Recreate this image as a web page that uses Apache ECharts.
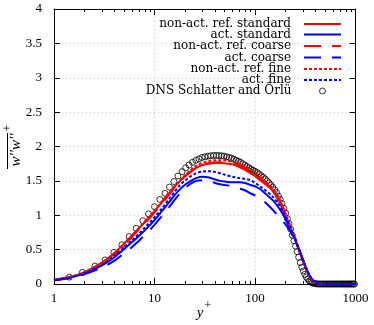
<!DOCTYPE html>
<html><head><meta charset="utf-8">
<script src="https://cdn.jsdelivr.net/npm/echarts@6/dist/echarts.min.js"></script>
<style>html,body{margin:0;padding:0;background:#fff}#c{width:374px;height:325px}</style>
</head><body><div id="c"></div>
<script>
// ---- data ----
const yPlus = [1,1.5,2,3,4,5,6,7,8,10,12,14,16,18,20,23,26,30,35,40,45,50,60,70,80,90,100,115,130,150,170,190,210,230,250,270,290,310,330,350,380,420,460,1000];
const nonActRefStandard = [0.06,0.11,0.17,0.31,0.45,0.59,0.71,0.81,0.90,1.06,1.20,1.32,1.42,1.50,1.57,1.64,1.69,1.73,1.75,1.76,1.76,1.755,1.74,1.70,1.66,1.61,1.57,1.50,1.44,1.36,1.25,1.08,0.93,0.78,0.64,0.51,0.39,0.28,0.18,0.10,0.04,0.01,0,0];
const actStandard = [0.055,0.10,0.15,0.27,0.39,0.51,0.61,0.70,0.78,0.93,1.07,1.19,1.30,1.38,1.44,1.50,1.54,1.56,1.55,1.52,1.50,1.49,1.48,1.48,1.47,1.44,1.42,1.37,1.30,1.22,1.12,1.01,0.89,0.77,0.65,0.53,0.41,0.30,0.20,0.12,0.05,0.015,0,0];
const nonActRefCoarse = [0.06,0.11,0.17,0.30,0.44,0.57,0.69,0.79,0.88,1.04,1.18,1.30,1.41,1.49,1.56,1.63,1.69,1.73,1.76,1.77,1.77,1.765,1.75,1.72,1.68,1.64,1.60,1.53,1.46,1.37,1.26,1.10,0.95,0.79,0.65,0.52,0.40,0.29,0.19,0.11,0.045,0.012,0,0];
const actCoarse = [0.055,0.09,0.14,0.24,0.34,0.45,0.54,0.63,0.71,0.86,1.00,1.12,1.23,1.32,1.39,1.46,1.50,1.51,1.50,1.47,1.45,1.44,1.42,1.39,1.36,1.32,1.29,1.24,1.17,1.08,0.99,0.91,0.83,0.74,0.64,0.53,0.41,0.30,0.20,0.12,0.05,0.015,0,0];
const nonActRefFine = [0.06,0.11,0.17,0.31,0.45,0.59,0.71,0.81,0.91,1.07,1.21,1.33,1.43,1.51,1.58,1.66,1.72,1.76,1.79,1.80,1.80,1.795,1.78,1.75,1.71,1.67,1.62,1.55,1.48,1.39,1.27,1.12,0.96,0.80,0.65,0.52,0.40,0.29,0.19,0.11,0.045,0.012,0,0];
const actFine = [0.055,0.10,0.16,0.28,0.41,0.53,0.64,0.73,0.82,0.97,1.11,1.24,1.35,1.44,1.50,1.57,1.61,1.635,1.64,1.63,1.61,1.59,1.56,1.54,1.53,1.51,1.47,1.41,1.35,1.27,1.17,1.05,0.92,0.79,0.66,0.53,0.41,0.30,0.20,0.12,0.05,0.015,0,0];
const dnsYPlus = [1.42,1.92,2.55,3.23,3.94,4.73,5.6,6.57,7.66,8.73,10.0,11.3,12.7,14.1,15.6,17.1,18.8,20.4,22.1,23.9,25.8,27.7,29.7,31.8,34,36.3,38.7,41.2,43.8,46.5,49.3,52.2,55.2,58.3,61.5,64.8,68.2,71.7,75.3,79,83,87,91,95.5,100,105,110,115,120,126,132,138,144,150,157,164,171,178,186,194,202,210,218,226,235,244,253,262,272,282,292,302,313,324,335,347,359,371,384,397,410,424,438,452,467,482,497,513,529,545,562,579,596,614,632,650,668,687,706,725,745,765,785,805,826,847,868,890,912,934,956,978,1000];
const dnsValues = [0.10,0.17,0.26,0.35,0.46,0.57,0.69,0.81,0.92,1.02,1.125,1.23,1.32,1.41,1.49,1.57,1.635,1.69,1.73,1.77,1.80,1.82,1.84,1.85,1.86,1.865,1.87,1.87,1.868,1.865,1.86,1.85,1.84,1.83,1.815,1.80,1.785,1.77,1.75,1.73,1.71,1.69,1.67,1.655,1.64,1.62,1.60,1.575,1.555,1.53,1.50,1.47,1.44,1.41,1.37,1.33,1.28,1.23,1.17,1.10,1.03,0.95,0.88,0.80,0.71,0.63,0.55,0.47,0.39,0.31,0.245,0.19,0.14,0.10,0.07,0.045,0.028,0.017,0.009,0.005,0.002,0.001,0,0,0,0,0,0,0,0,0,0,0,0,0,0,0,0,0,0,0,0,0,0,0,0,0,0,0,0,0,0];
const seriesNames = ['non-act. ref. standard','act. standard','non-act. ref. coarse','act. coarse','non-act. ref. fine','act. fine','DNS Schlatter and Örlü'];
const xMajorTicks = [1,10,100,1000];
const xMinorTicks = [2,3,4,5,6,7,8,9,20,30,40,50,60,70,80,90,200,300,400,500,600,700,800,900];

// ---- chart ----
const SERIF = '"Liberation Serif", "DejaVu Serif", serif';
const LFONT = '"DejaVu Serif", serif';
const chart = echarts.init(document.getElementById('c'), null, {renderer:'canvas'});
const lineSets = [
  [nonActRefStandard, '#ff0000', 'solid'],
  [actStandard, '#0000ff', 'solid'],
  [nonActRefCoarse, '#ff0000', [17,11]],
  [actCoarse, '#0000ff', [17,11]],
  [nonActRefFine, '#ff0000', [3,2]],
  [actFine, '#0000ff', [3,2]]
];
const series = lineSets.map((s, k) => ({
  type:'line', name: seriesNames[k], xAxisIndex:0, yAxisIndex:0,
  data: yPlus.map((x,i)=>[x, s[0][i]]),
  symbol:'none', smooth:0.3, silent:true,
  lineStyle:{color:s[1], width:2, type:s[2]}, itemStyle:{color:s[1]}
}));
series.push({
  type:'scatter', name: seriesNames[6], xAxisIndex:0, yAxisIndex:0,
  data: dnsYPlus.map((x,i)=>[x, dnsValues[i]]),
  symbol:'circle', symbolSize:6, silent:true,
  itemStyle:{color:'rgba(0,0,0,0)', borderColor:'#000', borderWidth:1}
});
const rowY = [24, 34.5, 46, 57.5, 69, 80, 91];
const legends = seriesNames.map((n, k) => {
  const isDns = k === 6;
  const lg = {
    data: [isDns ? {name:n, icon:'circle'} : n],
    right: isDns ? 48 : 32, top: rowY[k] - 6, padding: 0, align:'right', orient:'vertical',
    itemWidth: isDns ? 6 : 37, itemHeight: isDns ? 6 : 12, selectedMode:false,
    textStyle:{fontFamily:LFONT, fontSize:12, color:'#000', lineHeight:12, padding:[0, isDns ? 23 : 8, 0, 0]}
  };
  lg.itemStyle = isDns ? {color:'rgba(0,0,0,0)', borderColor:'#000', borderWidth:1} : {opacity:0, borderWidth:0};
  return lg;
});
const axCommon = {type:'log', logBase:10, min:1, max:1000, gridIndex:0};
chart.setOption({
  animation:false,
  grid:{left:54, right:18.5, top:9, bottom:41},
  legend: legends,
  xAxis:[
    Object.assign({}, axCommon, {position:'bottom',
      axisLine:{show:true, lineStyle:{color:'#000', width:1}},
      axisTick:{show:true, inside:true, length:6, customValues:xMajorTicks, lineStyle:{color:'#000'}},
      axisLabel:{show:true, customValues:xMajorTicks, margin:8, color:'#000', fontFamily:SERIF, fontSize:13,
        formatter: v => String(Math.round(v))},
      splitLine:{show:true, lineStyle:{type:[1,3], color:'#c8c8c8'}}}),
    Object.assign({}, axCommon, {position:'bottom',
      axisLine:{show:false}, axisLabel:{show:false}, splitLine:{show:false},
      axisTick:{show:true, inside:true, length:3, customValues:xMinorTicks, lineStyle:{color:'#000'}}}),
    Object.assign({}, axCommon, {position:'top',
      axisLine:{show:true, lineStyle:{color:'#000', width:1}}, axisLabel:{show:false}, splitLine:{show:false},
      axisTick:{show:true, inside:true, length:6, customValues:xMajorTicks, lineStyle:{color:'#000'}}}),
    Object.assign({}, axCommon, {position:'top',
      axisLine:{show:false}, axisLabel:{show:false}, splitLine:{show:false},
      axisTick:{show:true, inside:true, length:3, customValues:xMinorTicks, lineStyle:{color:'#000'}}})
  ],
  yAxis:[
    {type:'value', min:0, max:4, interval:0.5, position:'left',
      axisLine:{show:true, lineStyle:{color:'#000', width:1}},
      axisTick:{show:true, inside:true, length:6, lineStyle:{color:'#000'}},
      axisLabel:{margin:12, color:'#000', fontFamily:SERIF, fontSize:13},
      splitLine:{show:true, lineStyle:{type:[1,3], color:'#c8c8c8'}}},
    {type:'value', min:0, max:4, interval:0.5, position:'right',
      axisLine:{show:true, lineStyle:{color:'#000', width:1}},
      axisTick:{show:true, inside:true, length:6, lineStyle:{color:'#000'}},
      axisLabel:{show:false}, splitLine:{show:false}}
  ],
  graphic:[
    {type:'text', x:200, y:313, style:{text:'y', font:'italic 15px '+SERIF, fill:'#000', textAlign:'center', textVerticalAlign:'middle'}},
    {type:'text', x:208, y:306, style:{text:'+', font:'12px '+SERIF, fill:'#000', textAlign:'center', textVerticalAlign:'middle'}},
    {type:'group', x:16, y:150, rotation:Math.PI/2, children:[
      {type:'text', x:0, y:0, style:{text:'w\u2032\u2032w\u2032\u2032', font:'italic 15px '+SERIF, fill:'#000', textAlign:'center', textVerticalAlign:'middle'}},
      {type:'line', shape:{x1:-19, y1:-8.5, x2:17, y2:-8.5}, style:{stroke:'#000', lineWidth:1}},
      {type:'text', x:22, y:-8, style:{text:'+', font:'12px '+SERIF, fill:'#000', textAlign:'center', textVerticalAlign:'middle'}}
    ]}
  ],
  series: series
});
</script></body></html>
